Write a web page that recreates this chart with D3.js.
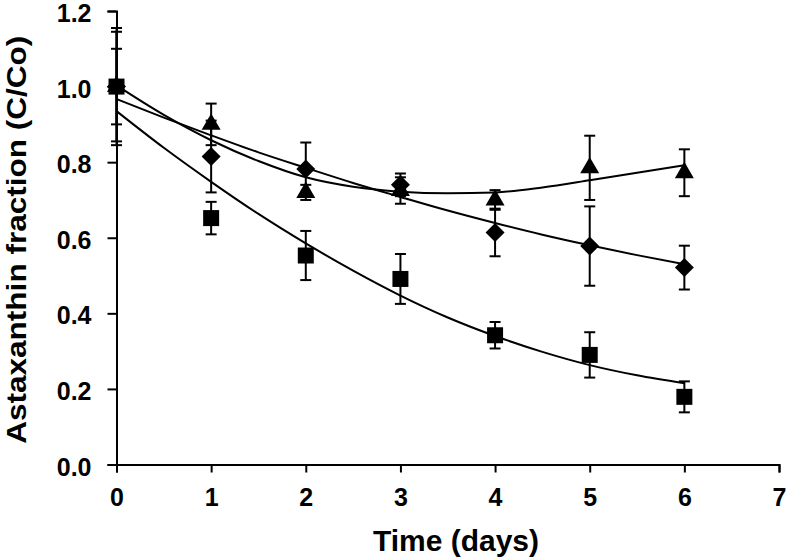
<!DOCTYPE html>
<html>
<head>
<meta charset="utf-8">
<script src="https://cdn.jsdelivr.net/npm/d3@7"></script>
<style>
  html, body { margin: 0; padding: 0; background: #fff; }
  svg { display: block; }
  text { font-family: "Liberation Sans", Arial, sans-serif; font-weight: bold; fill: #000; }
</style>
</head>
<body>
<script>
// ---------- data ----------
const days = [0, 1, 2, 3, 4, 5, 6];
const xTicks = [0, 1, 2, 3, 4, 5, 6, 7];
const yTicks = [0, 0.2, 0.4, 0.6, 0.8, 1.0, 1.2];

// Series (markers) and their standard deviations
const triangleValues = [1.0, 0.90, 0.72, 0.725, 0.70, 0.785, 0.772];
const triangleErrors = [0.155, 0.055, 0.02, 0.035, 0.026, 0.085, 0.062];
const diamondValues  = [1.0, 0.815, 0.782, 0.74, 0.614, 0.578, 0.521];
const diamondErrors  = [0.145, 0.095, 0.07, 0.03, 0.063, 0.105, 0.058];
const squareValues   = [1.0, 0.652, 0.553, 0.491, 0.342, 0.29, 0.179];
const squareErrors   = [0.10, 0.043, 0.065, 0.066, 0.035, 0.06, 0.041];

// Trend curves at half-day steps
const curveDays     = [0, 0.5, 1, 1.5, 2, 2.5, 3, 3.5, 4, 4.5, 5, 5.5, 6];
const triangleCurve = [1.003, 0.925, 0.858, 0.803, 0.76, 0.735, 0.722, 0.718, 0.72, 0.733, 0.752, 0.772, 0.792];
const diamondCurve  = [0.967, 0.918, 0.871, 0.826, 0.785, 0.745, 0.708, 0.672, 0.639, 0.608, 0.580, 0.554, 0.530];
const squareCurve   = [0.935, 0.838, 0.748, 0.663, 0.585, 0.513, 0.447, 0.389, 0.340, 0.298, 0.263, 0.236, 0.215];

const xLabel = "Time (days)";
const yLabel = "Astaxanthin fraction (C/Co)";

// ---------- layout ----------
const W = 790, H = 558;
const svg = d3.select("body").append("svg").attr("width", W).attr("height", H);

const x = d3.scaleLinear().domain([0, 7]).range([116.5, 779]);
const y = d3.scaleLinear().domain([0, 1.2]).range([464.5, 11]);

// axes
const xAxis = d3.axisBottom(x).tickValues(xTicks).tickFormat(d3.format("d")).tickSizeOuter(0).tickSize(8).tickPadding(16);
const yAxis = d3.axisLeft(y).tickValues(yTicks).tickFormat(d3.format(".1f")).tickSizeOuter(0).tickSize(9).tickPadding(16);

const gx = svg.append("g").attr("transform", `translate(0,${y(0)})`).call(xAxis);
const gy = svg.append("g").attr("transform", `translate(${x(0)},0)`).call(yAxis);
[gx, gy].forEach(g => {
  g.select(".domain").attr("stroke", "#000").attr("stroke-width", 2);
  g.selectAll(".tick line").attr("stroke", "#000").attr("stroke-width", 2);
  g.selectAll(".tick text").attr("font-size", 25).attr("font-family", '"Liberation Sans", Arial, sans-serif').attr("font-weight", "bold");
});
gy.selectAll(".tick text").attr("dy", "0.42em");

// axis titles
svg.append("text")
  .attr("x", 456)
  .attr("y", 551)
  .attr("text-anchor", "middle")
  .attr("font-size", 30)
  .attr("textLength", 166)
  .attr("lengthAdjust", "spacingAndGlyphs")
  .text(xLabel);

svg.append("text")
  .attr("transform", `translate(26,${(y(0) + y(1.2)) / 2 + 2}) rotate(-90)`)
  .attr("text-anchor", "middle")
  .attr("font-size", 28)
  .attr("textLength", 408)
  .attr("lengthAdjust", "spacingAndGlyphs")
  .text(yLabel);

// ---------- curves ----------
const line = d3.line().x(d => x(d[0])).y(d => y(d[1])).curve(d3.curveMonotoneX);
[triangleCurve, diamondCurve, squareCurve].forEach(c => {
  svg.append("path")
    .datum(curveDays.map((d, i) => [d, c[i]]))
    .attr("d", line)
    .attr("fill", "none")
    .attr("stroke", "#000")
    .attr("stroke-width", 2);
});

// ---------- error bars & markers ----------
const series = [
  { values: squareValues, errors: squareErrors, type: d3.symbolSquare, size: 256, rot: 0 },
  { values: diamondValues, errors: diamondErrors, type: d3.symbolSquare, size: 180, rot: 45 },
  { values: triangleValues, errors: triangleErrors, type: d3.symbolTriangle, size: 156, rot: 0 }
];

const capHalf = 5.5;
series.forEach(s => {
  const g = svg.append("g");
  days.forEach((d, i) => {
    const cx = x(d), top = y(s.values[i] + s.errors[i]), bot = y(s.values[i] - s.errors[i]);
    g.append("line").attr("x1", cx).attr("x2", cx).attr("y1", top).attr("y2", bot)
      .attr("stroke", "#000").attr("stroke-width", 2);
    g.append("line").attr("x1", cx - capHalf).attr("x2", cx + capHalf).attr("y1", top).attr("y2", top)
      .attr("stroke", "#000").attr("stroke-width", 2);
    g.append("line").attr("x1", cx - capHalf).attr("x2", cx + capHalf).attr("y1", bot).attr("y2", bot)
      .attr("stroke", "#000").attr("stroke-width", 2);
  });
});

series.forEach(s => {
  const sym = d3.symbol().type(s.type).size(s.size);
  svg.append("g").selectAll("path")
    .data(days.map((d, i) => [d, s.values[i]]))
    .join("path")
    .attr("d", sym)
    .attr("transform", d => `translate(${x(d[0])},${y(d[1])}) rotate(${s.rot})`)
    .attr("fill", "#000");
});
</script>
</body>
</html>
